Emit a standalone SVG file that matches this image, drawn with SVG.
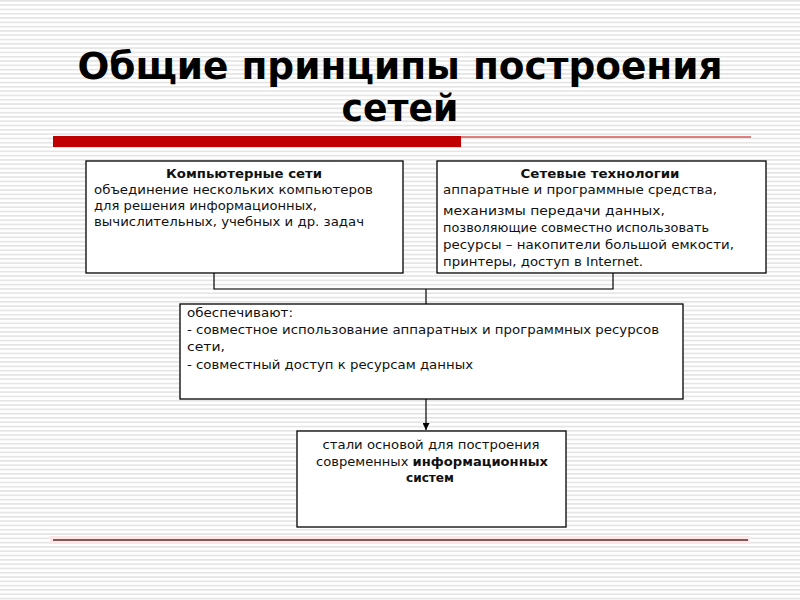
<svg xmlns="http://www.w3.org/2000/svg" width="800" height="600" viewBox="0 0 800 600">
<defs>
<pattern id="stripes" x="0" y="0" width="8" height="4.3" patternUnits="userSpaceOnUse">
<rect x="0" y="0" width="8" height="4.3" fill="#ffffff"/>
<rect x="0" y="0" width="8" height="1.6" fill="#e4e4e4"/>
</pattern>
<marker id="arrow" viewBox="0 0 10 10" refX="10" refY="5" markerWidth="7" markerHeight="7" orient="auto" markerUnits="userSpaceOnUse">
<path d="M0,0 L10,5 L0,10 z" fill="#000"/>
</marker>
<style>
.box{fill:#fff;stroke:#000;stroke-width:1.3}
.t{font-family:"DejaVu Sans","Verdana",sans-serif;font-size:12px;fill:#111}
.b{font-weight:bold}
.title{font-family:"DejaVu Sans Condensed","DejaVu Sans",sans-serif;font-weight:bold;font-size:37px;fill:#000;text-anchor:middle}
.conn{fill:none;stroke:#000;stroke-width:1.2}
</style>
</defs>
<rect width="800" height="600" fill="url(#stripes)"/>

<g id="title">
<text class="title" x="400" y="79" textLength="645" lengthAdjust="spacingAndGlyphs">Общие принципы построения</text>
<text class="title" x="400" y="121" textLength="117" lengthAdjust="spacingAndGlyphs">сетей</text>
<rect x="53" y="136" width="408" height="11" fill="#c00000"/>
<line x1="461" y1="137" x2="751" y2="137" stroke="#c00000" stroke-width="1"/>
</g>

<g id="connectors">
<polyline class="conn" points="214,273 214,289 613,289 613,273"/>
<line class="conn" x1="426" y1="289" x2="426" y2="304"/>
<line class="conn" x1="426" y1="399" x2="426" y2="430" marker-end="url(#arrow)"/>
</g>

<g id="node-computer-networks">
<rect class="box" x="86" y="161" width="317" height="112"/>
<text class="t b" x="244" y="178" text-anchor="middle" textLength="156" lengthAdjust="spacingAndGlyphs">Компьютерные сети</text>
<text class="t" x="94" y="194" textLength="279" lengthAdjust="spacingAndGlyphs">объединение нескольких компьютеров</text>
<text class="t" x="94" y="210" textLength="223" lengthAdjust="spacingAndGlyphs">для решения информационных,</text>
<text class="t" x="94" y="226" textLength="270" lengthAdjust="spacingAndGlyphs">вычислительных, учебных и др. задач</text>
</g>

<g id="node-network-tech">
<rect class="box" x="437" y="161" width="329" height="112"/>
<text class="t b" x="600" y="178" text-anchor="middle" textLength="159" lengthAdjust="spacingAndGlyphs">Сетевые технологии</text>
<text class="t" x="443" y="194" textLength="274" lengthAdjust="spacingAndGlyphs">аппаратные и программные средства,</text>
<text class="t" x="443" y="215" textLength="222" lengthAdjust="spacingAndGlyphs">механизмы передачи данных,</text>
<text class="t" x="443" y="232" textLength="266" lengthAdjust="spacingAndGlyphs">позволяющие совместно использовать</text>
<text class="t" x="443" y="249" textLength="291" lengthAdjust="spacingAndGlyphs">ресурсы – накопители большой емкости,</text>
<text class="t" x="443" y="266" textLength="200" lengthAdjust="spacingAndGlyphs">принтеры, доступ в Internet.</text>
</g>

<g id="node-provide">
<rect class="box" x="180" y="304" width="503" height="95"/>
<text class="t" x="187" y="317" textLength="106" lengthAdjust="spacingAndGlyphs">обеспечивают:</text>
<text class="t" x="187" y="334" textLength="472" lengthAdjust="spacingAndGlyphs">- совместное использование аппаратных и программных ресурсов</text>
<text class="t" x="187" y="351" textLength="38" lengthAdjust="spacingAndGlyphs">сети,</text>
<text class="t" x="187" y="369" textLength="286" lengthAdjust="spacingAndGlyphs">- совместный доступ к ресурсам данных</text>
</g>

<g id="node-basis">
<rect class="box" x="297" y="431" width="269" height="96"/>
<text class="t" x="431" y="449" text-anchor="middle" textLength="217" lengthAdjust="spacingAndGlyphs">стали основой для построения</text>
<text class="t" x="432" y="466" text-anchor="middle" textLength="232" lengthAdjust="spacingAndGlyphs">современных <tspan class="b">информационных</tspan></text>
<text class="t b" x="430" y="482" text-anchor="middle" textLength="48" lengthAdjust="spacingAndGlyphs">систем</text>
</g>

<g id="footer-line">
<rect x="50" y="536" width="700" height="8" fill="#fbe6e8"/>
<line x1="53" y1="540" x2="748" y2="540" stroke="#5a2a2a" stroke-width="1.5"/>
</g>
</svg>
